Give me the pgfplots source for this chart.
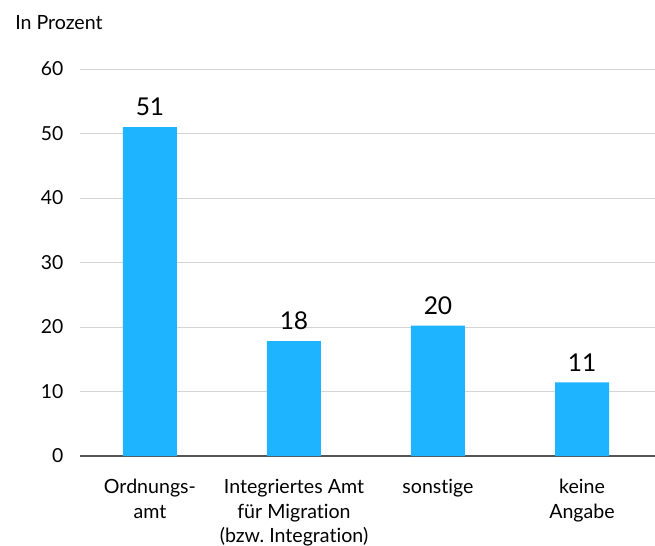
\documentclass[border=0pt]{standalone}
\usepackage{fontspec}
\setmainfont{Lato}[Ligatures=NoCommon]
\usepackage{pgfplots}
\pgfplotsset{compat=1.18}
\definecolor{barblue}{HTML}{1FB4FF}
\definecolor{gridgray}{HTML}{D4D4D4}
\definecolor{axisgray}{HTML}{555555}
\frenchspacing
\begin{document}
\begin{tikzpicture}
\begin{axis}[
 name=ax,
 scale only axis,
 width=431.25pt,height=290.25pt,
 ymin=0,ymax=60,
 xmin=-0.486,xmax=3.507,
 ytick={0,10,...,60},
 xtick=data,
 xticklabels={{Ordnungs-\\amt},{Integriertes Amt\\für Migration\\(bzw. Integration)},{sonstige},{keine\\Angabe}},
 xticklabel style={align=center,font=\fontsize{14.7}{18.3}\selectfont,yshift=-14pt},
 yticklabel style={font=\fontsize{14.5}{16}\selectfont,xshift=-9pt},
 /pgf/number format/assume math mode=true,
 major tick length=0pt,
 axis x line*=bottom,
 axis y line*=left,
 y axis line style={draw=none},
 x axis line style={axisgray,line width=1pt},
 ymajorgrids,
 grid style={gridgray,line width=0.6pt},
 ybar,bar width=40.5pt,
 point meta=explicit symbolic,
 nodes near coords,
 nodes near coords style={font=\fontsize{18.4}{20}\selectfont,text=black},
 every node near coord/.append style={yshift=5pt},
 clip=false,
]
% bar heights, labels as printed
\addplot[fill=barblue,draw=none] coordinates {(0,51) [51] (1,17.8) [18] (2,20.2) [20] (3,11.4) [11]};
\end{axis}
\node[anchor=base west,inner sep=0pt,font=\fontsize{14.7}{16}\selectfont] at (-48.75pt,319.5pt) {In Prozent};
\pgfresetboundingbox
\path[use as bounding box] (-60pt,-66.75pt) rectangle (431.25pt,342pt);
\end{tikzpicture}
\end{document}
